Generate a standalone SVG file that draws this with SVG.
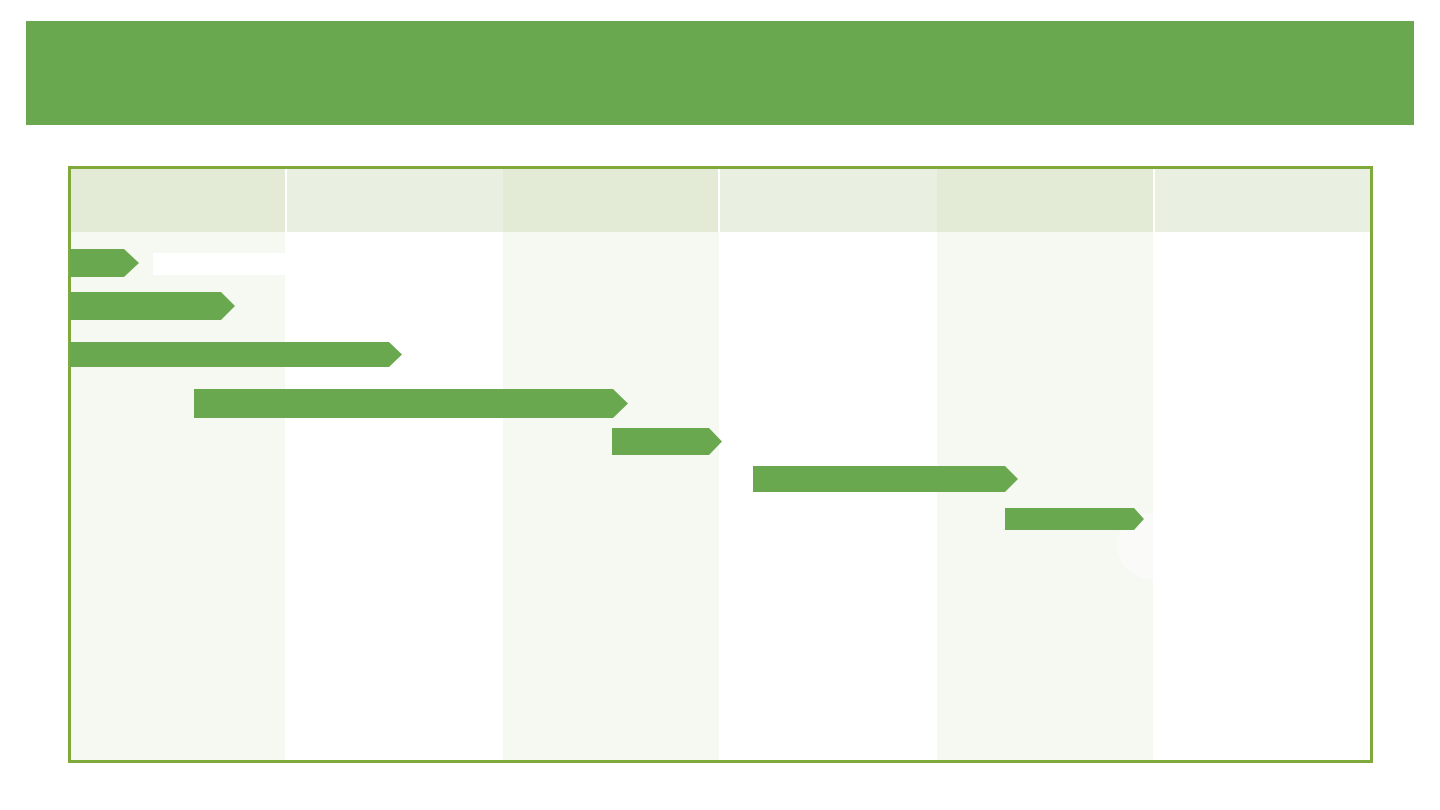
<svg xmlns="http://www.w3.org/2000/svg" width="1440" height="810" viewBox="0 0 1440 810">
  <defs>
    <style>
      .hdrA { fill: #e3ebd6; }
      .hdrB { fill: #eaf0e1; }
      .bodyA { fill: #f6f8f2; }
      .bodyB { fill: #ffffff; }
      .bar { fill: #6aa84f; }
    </style>
    <clipPath id="col5clip">
      <rect x="937" y="232" width="216" height="528"/>
    </clipPath>
  </defs>
  <rect x="0" y="0" width="1440" height="810" fill="#ffffff"/>
  <g id="title-band">
    <rect x="26" y="21" width="1388" height="104" fill="#6aa84f"/>
  </g>
  <g id="columns">
    <rect class="bodyA" x="71" y="232" width="214" height="529"/>
    <rect class="bodyB" x="287" y="232" width="216" height="529"/>
    <rect class="bodyA" x="503" y="232" width="216" height="529"/>
    <rect class="bodyB" x="720" y="232" width="217" height="529"/>
    <rect class="bodyA" x="937" y="232" width="216" height="529"/>
    <rect class="bodyB" x="1155" y="232" width="215" height="529"/>
    <rect class="hdrA" x="71" y="169" width="214" height="63"/>
    <rect class="hdrB" x="287" y="169" width="216" height="63"/>
    <rect class="hdrA" x="503" y="169" width="215" height="63"/>
    <rect class="hdrB" x="720" y="169" width="217" height="63"/>
    <rect class="hdrA" x="937" y="169" width="216" height="63"/>
    <rect class="hdrB" x="1155" y="169" width="215" height="63"/>
    <rect x="153" y="253" width="132" height="22" fill="#ffffff"/>
    <circle cx="1150" cy="546" r="33" fill="#fafaf8" clip-path="url(#col5clip)"/>
  </g>
  <g id="frame">
    <rect x="69.5" y="167.5" width="1302" height="594" fill="none" stroke="#7fa93b" stroke-width="3"/>
  </g>
  <g id="task1"><polygon class="bar" points="70,249 124,249 139,263 124,277 70,277"/></g>
  <g id="task2"><polygon class="bar" points="70,292 221,292 235,306 221,320 70,320"/></g>
  <g id="task3"><polygon class="bar" points="70,342 389,342 402,354.5 389,367 70,367"/></g>
  <g id="task4"><polygon class="bar" points="194,389 613,389 628,403.5 613,418 194,418"/></g>
  <g id="task5"><polygon class="bar" points="612,428 709,428 722,441.5 709,455 612,455"/></g>
  <g id="task6"><polygon class="bar" points="753,466 1005,466 1018,479 1005,492 753,492"/></g>
  <g id="task7"><polygon class="bar" points="1005,508 1134,508 1144,519 1134,530 1005,530"/></g>
  <g id="connectors"></g>
</svg>
